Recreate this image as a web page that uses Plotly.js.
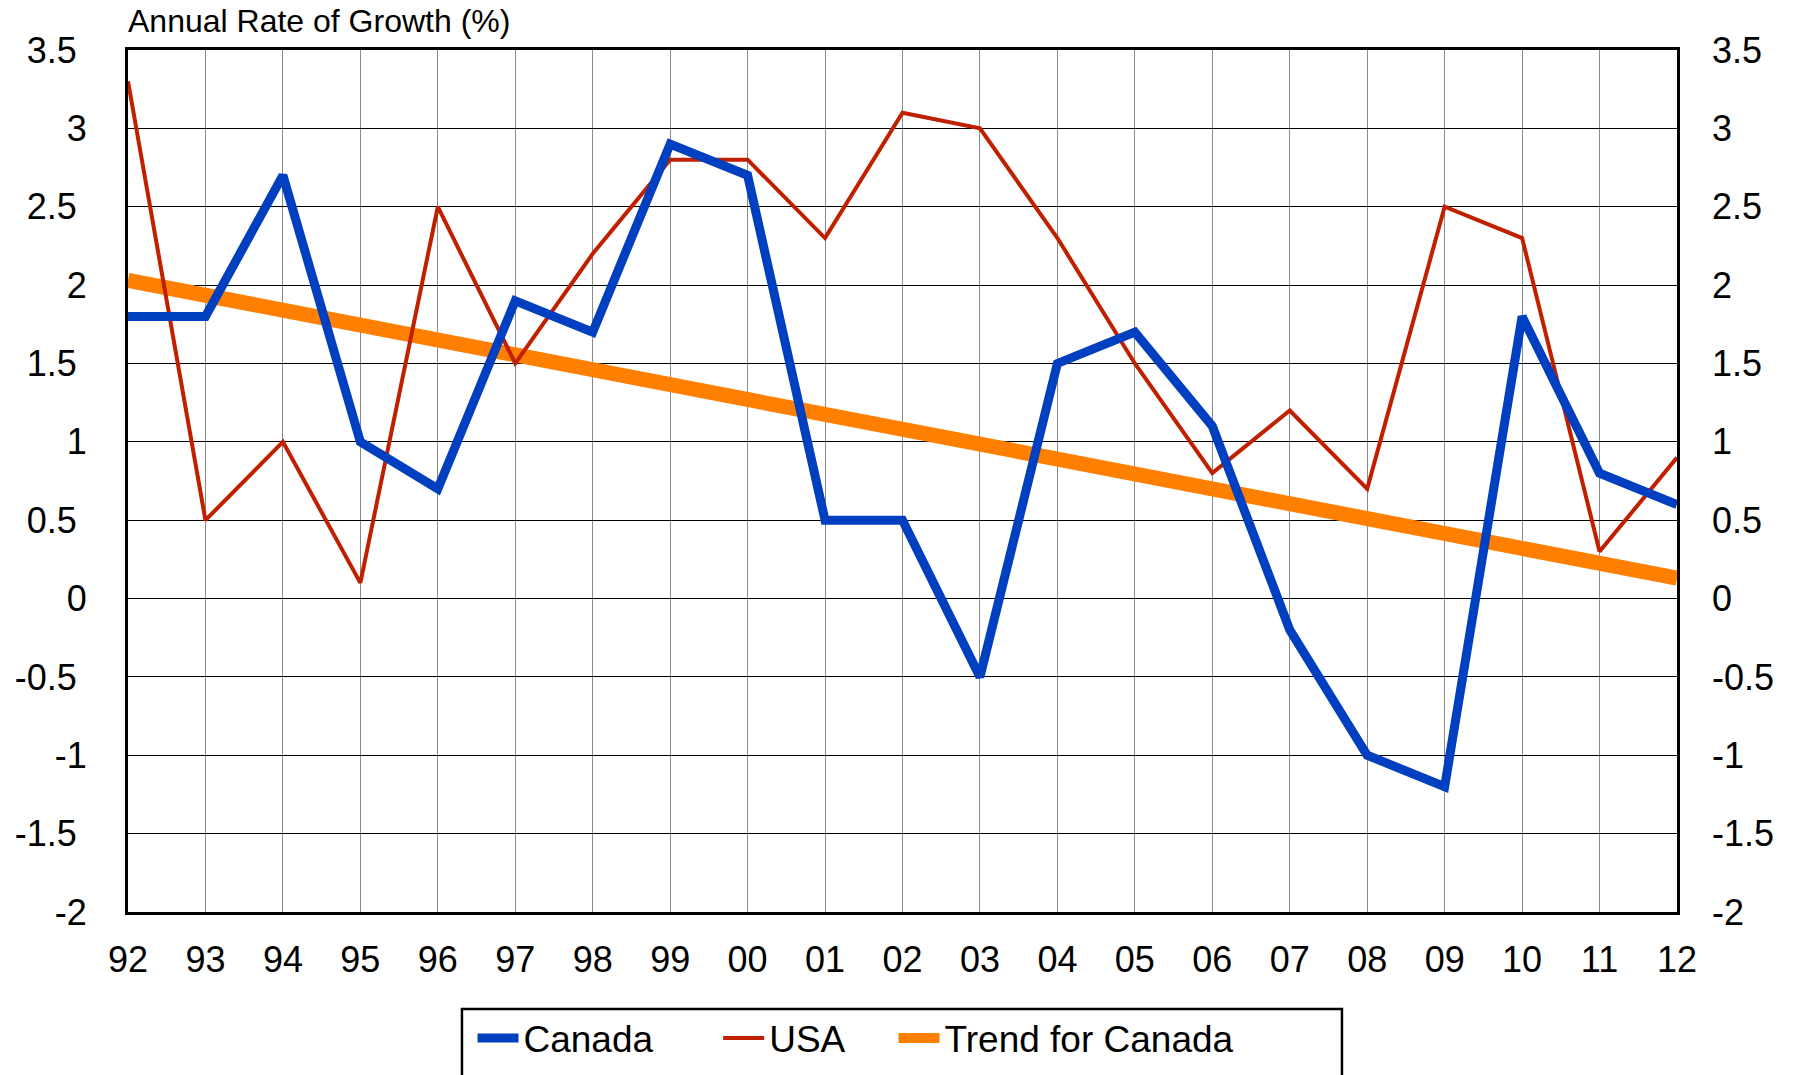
<!DOCTYPE html>
<html>
<head>
<meta charset="utf-8">
<script src="https://cdn.plot.ly/plotly-3.0.1.min.js"></script>
<style>
  html, body { margin: 0; padding: 0; background: #ffffff; }
  #chart { width: 1797px; height: 1075px; }
</style>
</head>
<body>
<div id="chart"></div>
<script>
// ---- data ----
const years = ['92','93','94','95','96','97','98','99','00','01','02','03','04','05','06','07','08','09','10','11','12'];
const canada = [1.8, 1.8, 2.7, 1.0, 0.7, 1.9, 1.7, 2.9, 2.7, 0.5, 0.5, -0.5, 1.5, 1.7, 1.1, -0.2, -1.0, -1.2, 1.8, 0.8, 0.6];
const usa    = [3.3, 0.5, 1.0, 0.1, 2.5, 1.5, 2.2, 2.8, 2.8, 2.3, 3.1, 3.0, 2.3, 1.5, 0.8, 1.2, 0.7, 2.5, 2.3, 0.3, 0.9];
const trendYears = ['92', '12'];
const trendValues = [2.03, 0.13];
const yTickVals = [3.5, 3, 2.5, 2, 1.5, 1, 0.5, 0, -0.5, -1, -1.5, -2];
const yTickLabelsLeft = ['3.5\u2008', '3', '2.5\u2008', '2', '1.5\u2008', '1', '0.5\u2008', '0', '-0.5\u2008', '-1', '-1.5\u2008', '-2'];
const yTickLabelsRight = ['3.5', '3', '2.5', '2', '1.5', '1', '0.5', '0', '-0.5', '-1', '-1.5', '-2'];
const chartTitle = 'Annual Rate of Growth (%)';

const FONT = 'Liberation Sans, Arial, sans-serif';

const traces = [
  {
    x: trendYears, y: trendValues, name: 'Trend for Canada', type: 'scatter', mode: 'lines',
    line: { color: '#FF8000', width: 15 }, legend: 'legend3', hoverinfo: 'skip'
  },
  {
    x: years, y: usa, name: 'USA', type: 'scatter', mode: 'lines',
    line: { color: '#C02000', width: 4 }, legend: 'legend2'
  },
  {
    x: years, y: canada, name: 'Canada', type: 'scatter', mode: 'lines',
    line: { color: '#0040C0', width: 9 }, legend: 'legend'
  }
];

function legendAt(xpos) {
  return {
    orientation: 'h', x: xpos, y: -0.1108, xanchor: 'left', yanchor: 'top',
    font: { family: FONT, size: 37, color: '#000000' },
    bgcolor: 'rgba(0,0,0,0)', borderwidth: 0, itemwidth: 41, itemclick: false
  };
}

const layout = {
  width: 1797, height: 1075,
  paper_bgcolor: '#ffffff', plot_bgcolor: '#ffffff',
  margin: { l: 128, r: 120, t: 50, b: 163, pad: 0, autoexpand: false },
  font: { family: FONT, color: '#000000', size: 36 },
  title: {
    text: chartTitle,
    font: { family: FONT, size: 32, color: '#000000' },
    xref: 'paper', x: 0, xanchor: 'left',
    yref: 'container', y: 0.9805, yanchor: 'middle'
  },
  showlegend: true,
  legend: legendAt(0.2224),
  legend2: legendAt(0.3810),
  legend3: legendAt(0.4942),
  xaxis: {
    type: 'category', categoryorder: 'array', categoryarray: years,
    range: [0, 20], showgrid: true, gridcolor: '#8a8a8a', gridwidth: 1,
    showline: true, linecolor: '#000000', linewidth: 3, mirror: true,
    ticks: '', ticklabelstandoff: 14, zeroline: false,
    tickfont: { family: FONT, size: 36, color: '#000000' }, fixedrange: true
  },
  yaxis: {
    range: [-2, 3.5], tickmode: 'array', tickvals: yTickVals, ticktext: yTickLabelsLeft,
    showgrid: true, gridcolor: '#000000', gridwidth: 1, zeroline: false,
    showline: true, linecolor: '#000000', linewidth: 3, mirror: true,
    ticks: '', ticklabelstandoff: 31,
    tickfont: { family: FONT, size: 36, color: '#000000' }, fixedrange: true
  },
  yaxis2: {
    overlaying: 'y', side: 'right', range: [-2, 3.5],
    tickmode: 'array', tickvals: yTickVals, ticktext: yTickLabelsRight,
    showgrid: false, zeroline: false, showline: false, ticks: '', ticklabelstandoff: 34,
    tickfont: { family: FONT, size: 36, color: '#000000' }, fixedrange: true
  },
  shapes: [
    {
      type: 'rect', xref: 'paper', yref: 'paper',
      x0: 0.2156, x1: 0.7837, y0: -0.1125, y1: -0.25,
      line: { color: '#000000', width: 2.5 }, fillcolor: 'rgba(0,0,0,0)', layer: 'above'
    }
  ]
};

// invisible helper trace so the right-hand axis is drawn
traces.push({ x: [years[0]], y: [0], yaxis: 'y2', mode: 'markers', marker: { opacity: 0 }, showlegend: false, hoverinfo: 'skip' });

Plotly.newPlot('chart', traces, layout, { staticPlot: true, displayModeBar: false });
</script>
</body>
</html>
